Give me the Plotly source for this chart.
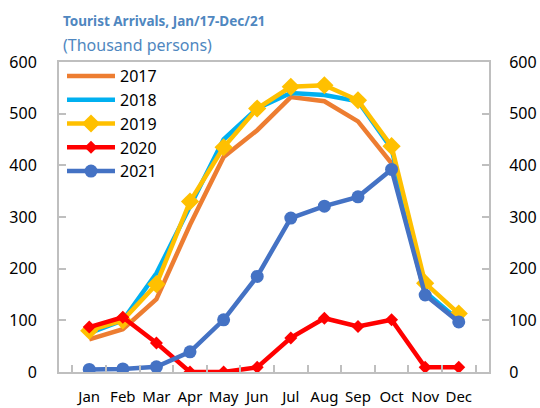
import plotly.graph_objects as go

months = ["Jan", "Feb", "Mar", "Apr", "May", "Jun", "Jul", "Aug", "Sep", "Oct", "Nov", "Dec"]
y2017 = [63, 83, 141, 285, 416, 468, 532, 524, 485, 404, 150, 99]
y2018 = [75, 100, 191, 320, 450, 510, 540, 536, 524, 432, 155, 100]
y2019 = [80, 100, 170, 330, 435, 510, 552, 555, 526, 437, 172, 113]
y2020 = [87, 106, 56, 0, 0, 9, 66, 104, 88, 101, 9, 9]
y2021 = [5, 6, 10, 39, 101, 185, 298, 321, 339, 392, 149, 97]
y_ticks = [0, 100, 200, 300, 400, 500, 600]

FONT = "Noto Sans"
AX = "#BFBFBF"
TITLE_C = "#4F87C0"

W, H = 540, 408
L, R, T, B = 59, 540 - 489, 62, 408 - 372
pw = W - L - R
ph = H - T - B

def px_x(x):
    return (x - L) / pw

def px_y(y):
    return (H - B - y) / ph

fig = go.Figure()
fig.add_trace(go.Scatter(x=months, y=y2017, name="2017", mode="lines",
                         line=dict(color="#ED7D31", width=4.5)))
fig.add_trace(go.Scatter(x=months, y=y2018, name="2018", mode="lines",
                         line=dict(color="#00B0F0", width=4.5)))
fig.add_trace(go.Scatter(x=months, y=y2019, name="2019", mode="lines+markers",
                         line=dict(color="#FFC000", width=4.5),
                         marker=dict(symbol="diamond", size=14, color="#FFC000")))
fig.add_trace(go.Scatter(x=months, y=y2020, name="2020", mode="lines+markers",
                         line=dict(color="#FF0000", width=4.5),
                         marker=dict(symbol="diamond", size=10, color="#FF0000")))
fig.add_trace(go.Scatter(x=months, y=y2021, name="2021", mode="lines+markers",
                         line=dict(color="#4472C4", width=4.5),
                         marker=dict(symbol="circle", size=13, color="#4472C4")))
# invisible trace to anchor secondary axis
fig.add_trace(go.Scatter(x=months, y=y2021, yaxis="y2", mode="lines",
                         line=dict(width=0), opacity=0, showlegend=False,
                         hoverinfo="skip"))

fig.update_layout(
    width=W, height=H,
    margin=dict(l=L, r=R, t=T, b=B),
    paper_bgcolor="white", plot_bgcolor="white",
    font=dict(family=FONT, size=15, color="#000000"),
    showlegend=True,
    legend=dict(x=px_x(62), y=px_y(59), xanchor="left", yanchor="top",
                bgcolor="rgba(0,0,0,0)", font=dict(size=16, family=FONT),
                tracegroupgap=0, itemwidth=48),
    xaxis=dict(type="category", showline=True, linecolor=AX, linewidth=2,
               mirror=True, ticks="inside", tickson="boundaries", ticklen=7,
               tickcolor=AX, tickwidth=2, showgrid=False, zeroline=False,
               ticklabelstandoff=10, tickangle=0, automargin=False,
               tickfont=dict(size=15)),
    yaxis=dict(range=[0, 600], tickvals=y_ticks, showline=True, linecolor=AX,
               linewidth=2, ticks="inside", ticklen=7, tickcolor=AX, tickwidth=2,
               showgrid=False, zeroline=False, ticklabelstandoff=17,
               automargin=False, tickfont=dict(size=16)),
    yaxis2=dict(range=[0, 600], tickvals=y_ticks, overlaying="y", side="right",
                showline=True, linecolor=AX, linewidth=2, ticks="inside",
                ticklen=7, tickcolor=AX, tickwidth=2, showgrid=False,
                zeroline=False, ticklabelstandoff=15, automargin=False,
                tickfont=dict(size=16)),
    annotations=[
        dict(text="<b>Tourist Arrivals, Jan/17-Dec/21</b>", x=px_x(61), y=px_y(21),
             xref="paper", yref="paper", showarrow=False, xanchor="left",
             yanchor="middle", font=dict(size=13.5, color=TITLE_C, family=FONT)),
        dict(text="(Thousand persons)", x=px_x(61), y=px_y(45),
             xref="paper", yref="paper", showarrow=False, xanchor="left",
             yanchor="middle", font=dict(size=16, color=TITLE_C, family=FONT)),
    ],
)

fig.write_html(
    "out.html",
    config={"displayModeBar": False},
    post_script="document.body.style.margin='0';"
                "document.documentElement.style.overflow='hidden';"
                "document.body.style.overflow='hidden';",
)
